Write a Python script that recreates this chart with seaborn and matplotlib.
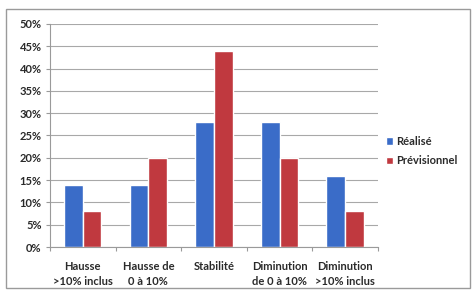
import matplotlib
matplotlib.use("Agg")
import matplotlib.pyplot as plt
import matplotlib.patches as mpatches
from matplotlib.ticker import PercentFormatter, FixedLocator
import seaborn as sns
import pandas as pd

categories = ["Hausse\n>10% inclus", "Hausse de\n0 à 10%", "Stabilité",
              "Diminution\nde 0 à 10%", "Diminution\n>10% inclus"]
realise = [14, 14, 28, 28, 16]
previsionnel = [8, 20, 44, 20, 8]
series = ["Réalisé", "Prévisionnel"]

df = pd.DataFrame({
    "cat": categories * 2,
    "val": realise + previsionnel,
    "serie": [series[0]] * 5 + [series[1]] * 5,
})

sns.set_theme(style="white")
plt.rcParams["font.family"] = ["Lato", "DejaVu Sans"]

fig = plt.figure(figsize=(4.76, 2.91), dpi=100)
fig.patch.set_facecolor("white")
ax = fig.add_axes([0.105, 0.151, 0.689, 0.767])

palette = {"Réalisé": "#3a6cc8", "Prévisionnel": "#c0393f"}
sns.barplot(data=df, x="cat", y="val", hue="serie", palette=palette,
            width=0.57, saturation=1, ax=ax, legend=True)

ax.set_ylim(0, 50)
ax.set_xlim(-0.5, 4.5)
ax.set_yticks(range(0, 51, 5))
ax.yaxis.set_major_formatter(PercentFormatter(decimals=0))
ax.yaxis.grid(True, color="#a8a8a8", linewidth=0.8)
ax.set_axisbelow(True)
ax.set_xlabel("")
ax.set_ylabel("")
for s in ["top", "right"]:
    ax.spines[s].set_visible(False)
for s in ["left", "bottom"]:
    ax.spines[s].set_color("#9a9a9a")
    ax.spines[s].set_linewidth(0.8)

ax.tick_params(axis="y", labelsize=8, colors="#2a2a2a", left=True, length=3,
               width=0.8, color="#9a9a9a", pad=3)
ax.tick_params(axis="x", labelsize=8, colors="#2a2a2a", bottom=False, pad=4)
ax.xaxis.set_minor_locator(FixedLocator([-0.5, 0.5, 1.5, 2.5, 3.5, 4.5]))
ax.tick_params(axis="x", which="minor", bottom=True, length=3, width=0.8,
               color="#9a9a9a")
for lbl in ax.get_xticklabels() + ax.get_yticklabels():
    lbl.set_linespacing(1.5)
    lbl.set_fontweight("bold")

leg = ax.legend(loc="center left", bbox_to_anchor=(0.995, 0.43), frameon=False,
                fontsize=8, handlelength=0.6, handleheight=0.6,
                handletextpad=0.3, labelspacing=0.75)
for t in leg.get_texts():
    t.set_color("#2a2a2a")
    t.set_fontweight("bold")

fig.patches.append(mpatches.Rectangle((0.012, 0.01), 0.976, 0.96,
                                      transform=fig.transFigure, fill=False,
                                      edgecolor="#9a9a9a", linewidth=1))

fig.savefig("out.png", dpi=100)
